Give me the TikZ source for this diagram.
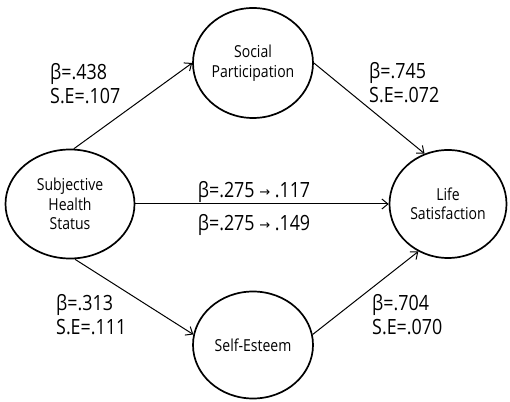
\documentclass[tikz,border=0pt]{standalone}
\usepackage{fontspec}
\setmainfont[FakeStretch=0.85]{Open Sans}
\newfontfamily\arrowfont{DejaVu Sans}
\usetikzlibrary{shapes.geometric,arrows.meta}

\tikzset{
  var/.style={ellipse,draw,line width=1.7pt,inner sep=0pt,align=center,
    minimum width=120pt,minimum height=108pt,font=\fontsize{16.5}{19.5}\selectfont},
  link/.style={-{Straight Barb[length=6pt,width=10pt]},line width=1pt},
  coef/.style={anchor=west,align=left,inner sep=0pt,font=\fontsize{21}{24}\selectfont},
  change/.style={inner sep=0pt,font=\fontsize{21}{24}\selectfont}
}
\newcommand{\goesto}{ {\arrowfont\fontsize{13}{13}\selectfont\raisebox{1pt}{→}} }

\begin{document}
\begin{tikzpicture}[x=1pt,y=1pt]
        \useasboundingbox (0,0) rectangle (510,401);
        % the four variables
        \node[var,minimum width=129pt,minimum height=109pt] (health) at (70,197) {Subjective\\Health\\Status};
        \node[var,minimum height=110pt] (social) at (253,338) {Social\\Participation};
        \node[var,minimum width=117pt] (life) at (448,197) {Life\\Satisfaction};
        \node[var,minimum height=107pt] (esteem) at (253,56) {Self-Esteem};
        %% the paths
        \draw[link] (health.86) -- (social.west);
        \draw[link] (social.east) -- (life.115);
        \draw[link] (health.east) -- (life.west);
        \draw[link] (health.275) -- (esteem.170);
        \draw[link] (esteem.10) -- (life.238);
        %% coefficients
        \node[coef] (c1) at (50,317) {β=.438\\S.E=.107};
        \node[coef] (c2) at (369,318) {β=.745\\S.E=.072};
        \node[coef] (c3) at (56,86) {β=.313\\S.E=.111};
        \node[coef] (c4) at (372,86) {β=.704\\S.E=.070};
        \node[change] (d1) at (254,209) {β=.275\goesto.117};
        \node[change] (d2) at (254,176) {β=.275\goesto.149};
      \end{tikzpicture}
\end{document}
